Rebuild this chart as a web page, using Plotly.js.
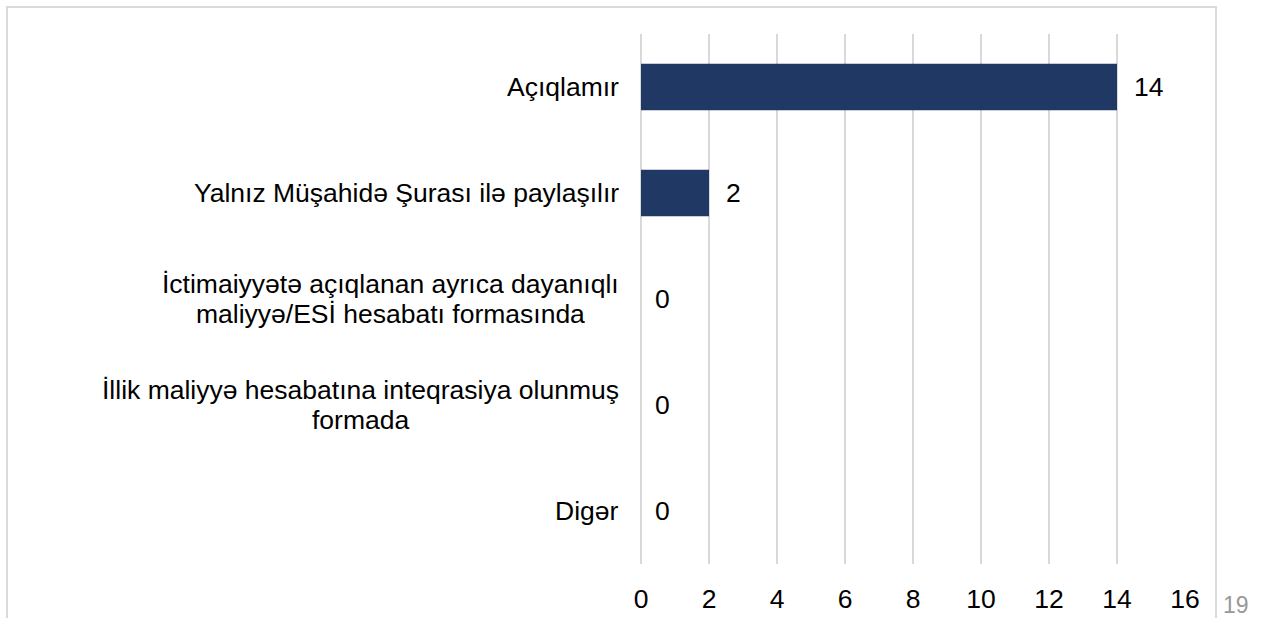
<!DOCTYPE html>
<html>
<head>
<meta charset="utf-8">
<script src="https://cdn.plot.ly/plotly-3.0.1.min.js"></script>
<style>
  body { margin: 0; background: #fff; }
  #myDiv { width: 1266px; height: 618px; }
  #frame {
    position: absolute; left: 6px; top: 6px; width: 1211px; height: 700px;
    box-sizing: border-box; border: 2px solid #dadada; border-bottom: none;
    pointer-events: none;
  }
</style>
</head>
<body>
<div id="myDiv"></div>
<div id="frame"></div>
<script>
var categories = [
  'Açıqlamır',
  'Yalnız Müşahidə Şurası ilə paylaşılır',
  'İctimaiyyətə açıqlanan ayrıca dayanıqlı<br>maliyyə/ESİ hesabatı formasında',
  'İllik maliyyə hesabatına inteqrasiya olunmuş<br>formada',
  'Digər'
];
var counts = [14, 2, 0, 0, 0];
var xTicks = [0, 2, 4, 6, 8, 10, 12, 14, 16];
var pageNumber = '19';

var font = 'Liberation Sans, Arial, sans-serif';
var fsize = 26.5;

var trace1 = {
  type: 'bar',
  orientation: 'h',
  x: counts,
  y: categories,
  marker: {
    color: '#203864',
    line: { width: 0 }
  },
  hoverinfo: 'none'
};

function widthOf(s) {
  var c = document.createElement('canvas').getContext('2d');
  c.font = fsize + 'px ' + font;
  return c.measureText(s).width;
}

var annotations = [];
for (var i = 0; i < categories.length; i++) {
  // category labels, one annotation per line so the lines sit close together
  var lines = categories[i].split('<br>');
  for (var j = 0; j < lines.length; j++) {
    annotations.push({
      text: lines[j],
      xref: 'paper', yref: 'y',
      x: 0, y: categories[i],
      xanchor: 'center', yanchor: 'middle',
      xshift: -22 - widthOf(lines[0]) / 2,
      yshift: (lines.length - 1) * 15 - j * 30,
      showarrow: false,
      font: { family: font, size: fsize, color: '#000' }
    });
  }
  // value labels
  annotations.push({
    text: String(counts[i]),
    xref: 'x', yref: 'y',
    x: counts[i], y: categories[i],
    xanchor: 'left', yanchor: 'middle',
    xshift: counts[i] > 0 ? 15 : 12,
    showarrow: false,
    font: { family: font, size: fsize, color: '#000' }
  });
}
annotations.push({
  text: pageNumber,
  xref: 'paper', yref: 'paper',
  x: 1, y: 0,
  xanchor: 'left', yanchor: 'middle',
  xshift: 36, yshift: -41,
  showarrow: false,
  font: { family: font, size: 23, color: '#999999' }
});

var layout = {
  width: 1266,
  height: 618,
  margin: { l: 641, r: 81, t: 34, b: 54 },
  paper_bgcolor: '#fff',
  plot_bgcolor: '#fff',
  showlegend: false,
  bargap: 0.56,
  font: { family: font, size: fsize, color: '#000' },
  xaxis: {
    range: [0, 16],
    tickvals: xTicks,
    ticktext: xTicks.map(String),
    showgrid: true,
    gridcolor: '#d9d9d9',
    gridwidth: 1.5,
    zeroline: true,
    zerolinecolor: '#d9d9d9',
    zerolinewidth: 1.5,
    showline: false,
    ticks: '',
    ticklabelstandoff: 16,
    tickfont: { family: font, size: fsize, color: '#000' }
  },
  yaxis: {
    type: 'category',
    autorange: 'reversed',
    showticklabels: false,
    showgrid: false,
    zeroline: false,
    showline: false,
    ticks: ''
  },
  annotations: annotations
};

Plotly.newPlot('myDiv', [trace1], layout, { displayModeBar: false, staticPlot: true });
</script>
</body>
</html>
